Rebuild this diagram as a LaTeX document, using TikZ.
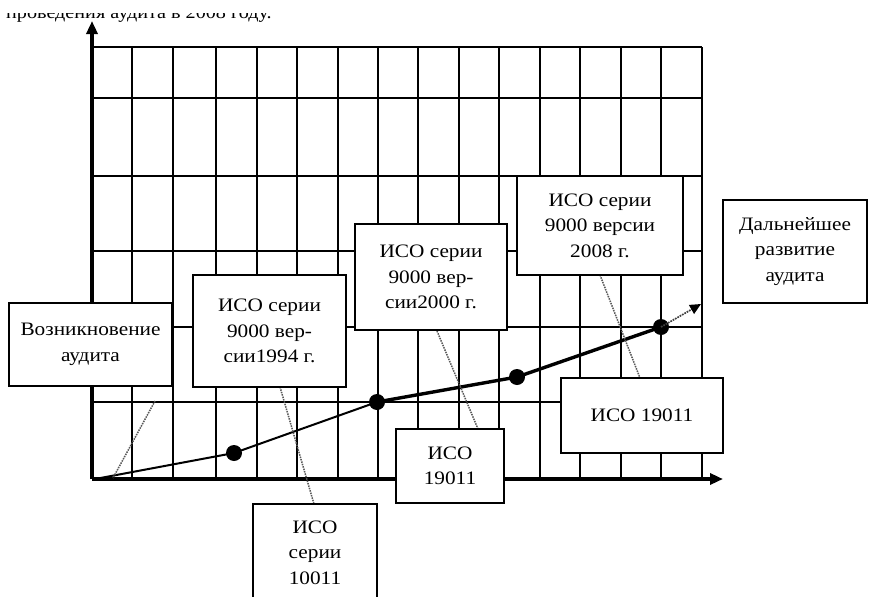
\documentclass[tikz,border=0pt]{standalone}
\usepackage{fontspec}
\setmainfont{Liberation Serif}[FakeStretch=1.12]
\usetikzlibrary{arrows.meta}
\newcommand\boxfont{\fontsize{19}{25.5}\selectfont}
\newcommand\topfont{\fontsize{18}{20}\selectfont}
\begin{document}
\begin{tikzpicture}[x=1pt,y=-1pt,
  gridline/.style={line width=2pt, black},
  axisline/.style={line width=3.6pt, black, -{Triangle[length=13pt,width=11pt]}},
  box/.style={draw, line width=2pt, fill=white, align=center, inner sep=0pt, font=\boxfont},
  callout/.style={black!65, line width=1.5pt, densely dotted},
  trend/.style={black!75, line width=1.7pt, densely dotted, -{Triangle[length=11pt,width=10pt,fill=black,color=black]}},
  dotnode/.style={circle, fill=black, minimum size=16pt, inner sep=0pt}]
\useasboundingbox (0,0) rectangle (873,597);
\fill[white] (0,0) rectangle (873,597);
% top (cut) caption
\begin{scope}
  \clip (0,13.5) rectangle (873,30);
  \node[anchor=base west, font=\topfont, inner sep=0pt] (toptext) at (6,18) {проведения аудита в 2008 году.};
\end{scope}
% grid
\foreach \gx in {132,173,215.5,257,297,337.5,378,418,459,499,539.5,580,620.5,661,701.5}
  \draw[gridline] (\gx,47) -- (\gx,479);
\foreach \gy in {47,98,176,251,327,402}
  \draw[gridline] (92,\gy) -- (701.5,\gy);
% axes
\coordinate (O) at (92,479);
\coordinate (ytop) at (92,21);
\coordinate (xend) at (723,479);
\draw[axisline] (O) -- (ytop);
\draw[axisline] (O) -- (xend);
% trend line
\coordinate (s) at (95,479);
\node[dotnode] (d1) at (234,453) {};
\node[dotnode] (d2) at (377,402) {};
\node[dotnode] (d3) at (517,377) {};
\node[dotnode] (d4) at (661,327) {};
\coordinate (aend) at (701,304);
\draw[line width=2pt] (s) -- (d1.center) -- (d2.center);
\draw[line width=3.4pt] (d2.center) -- (d3.center) -- (d4.center);
\draw[trend] (d4.center) -- (aend);
% callout points
\coordinate (c1a) at (155,401);
\coordinate (c1b) at (113,478);
\coordinate (c2a) at (280,387);
\coordinate (c2b) at (314,504);
\coordinate (c3a) at (437,331);
\coordinate (c3b) at (478,429);
\coordinate (c4a) at (600,275);
\coordinate (c4b) at (640,378);
\draw[callout] (c1a) -- (c1b);
\draw[callout] (c2a) -- (c2b);
\draw[callout] (c3a) -- (c3b);
\draw[callout] (c4a) -- (c4b);
% boxes
\node[box, minimum width=163pt, minimum height=83pt] (b1) at (90.5,344.5) {Возникновение\\аудита};
\node[box, minimum width=153pt, minimum height=112pt] (b2) at (269.5,331) {ИСО серии\\9000 вер-\\сии1994 г.};
\node[box, minimum width=152pt, minimum height=106pt] (b3) at (431,277) {ИСО серии\\9000 вер-\\сии2000 г.};
\node[box, minimum width=166pt, minimum height=99pt] (b4) at (600,225.5) {ИСО серии\\9000 версии\\2008 г.};
\node[box, minimum width=144pt, minimum height=103pt] (b5) at (795,251.5) {Дальнейшее\\развитие\\аудита};
\node[box, minimum width=124pt, minimum height=97pt] (b6) at (315,552.5) {ИСО\\серии\\10011};
\node[box, minimum width=108pt, minimum height=74pt] (b7) at (450,466) {ИСО\\19011};
\node[box, minimum width=162pt, minimum height=75pt] (b8) at (642,415.5) {ИСО 19011};
\end{tikzpicture}
\end{document}
